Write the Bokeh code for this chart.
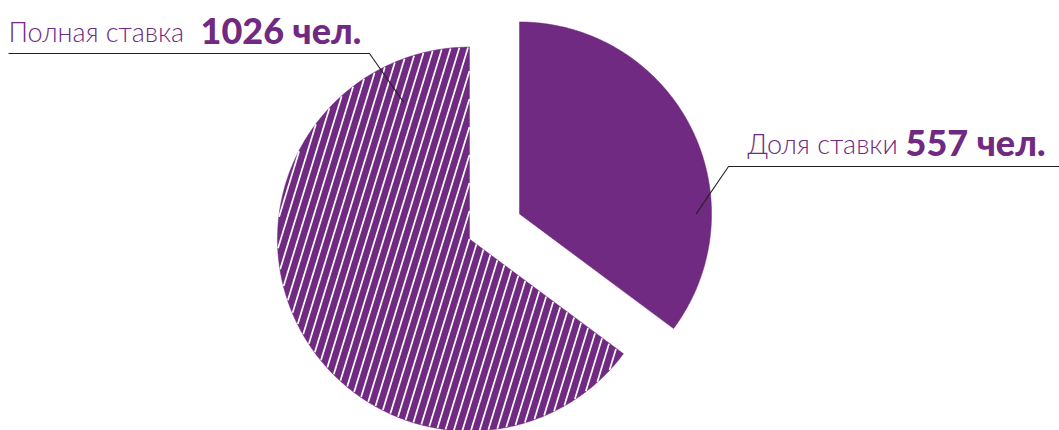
import numpy as np
from bokeh.plotting import figure
from bokeh.models import Range1d
from bokeh.core.properties import value
from bokeh.embed import file_html
from bokeh.resources import INLINE

# ---- data ----
categories = ["Полная ставка", "Доля ставки"]
counts = [1026, 557]
unit = "чел."

# ---- style / layout ----
PURPLE = "#702A82"
LINE = "#222222"
W, H = 1059, 430
CX, CY = 494.0, 226.0       # pie centre (px)
R = 192.0                   # radius
EXPLODE = 28.0
STRIPE_ANGLE = 73.0         # degrees from horizontal
STRIPE_SP = 8.2
REG_FONT = "Lato Light"
BOLD_FONT = "Lato Black"

p = figure(width=W, height=H, x_range=Range1d(0, W), y_range=Range1d(H, 0),
           output_backend="svg", toolbar_location=None, min_border=0,
           background_fill_color="white", border_fill_color="white")
p.axis.visible = False
p.grid.visible = False
p.outline_line_color = None

total = float(sum(counts))
# clockwise from 12 o'clock: part-time slice first, then full-time
order = [1, 0]
angles = {}
a = 0.0
for i in order:
    span = counts[i] / total * 360.0
    angles[i] = (a, a + span)
    a += span


def pt(cx, cy, r, th):
    t = np.radians(th)
    return cx + r * np.sin(t), cy - r * np.cos(t)


apex = {}
for i in order:
    a0, a1 = angles[i]
    mid = (a0 + a1) / 2.0
    apex[i] = pt(CX, CY, EXPLODE, mid)

# slices as polygons
for i in order:
    a0, a1 = angles[i]
    ax, ay = apex[i]
    th = np.linspace(a0, a1, 400)
    xs, ys = pt(ax, ay, R, th)
    xs = np.concatenate([[ax], xs])
    ys = np.concatenate([[ay], ys])
    p.patch(xs, ys, fill_color=PURPLE, line_color=PURPLE, line_width=0.5)

# stripes for full-time slice (index 0)
hx, hy = apex[0]
ha0, ha1 = angles[0]
ang = np.radians(STRIPE_ANGLE)
d = np.array([np.cos(ang), -np.sin(ang)])
n = np.array([np.sin(ang), np.cos(ang)])
t = np.arange(-R - 2, R + 2, 0.2)
sx, sy = [], []
for k in range(-int(R / STRIPE_SP) - 2, int(R / STRIPE_SP) + 3):
    bx = hx + k * STRIPE_SP * n[0]
    by = hy + k * STRIPE_SP * n[1]
    px = bx + t * d[0]
    py = by + t * d[1]
    dx, dy = px - hx, py - hy
    rr = np.hypot(dx, dy)
    th = np.degrees(np.arctan2(dx, -dy)) % 360.0
    inside = (rr <= R - 0.3) & (th >= ha0 + 0.15) & (th <= ha1)
    idx = np.flatnonzero(inside)
    if idx.size == 0:
        continue
    runs = np.split(idx, np.flatnonzero(np.diff(idx) > 1) + 1)
    for run in runs:
        if run.size < 2:
            continue
        sx.append([px[run[0]], px[run[-1]]])
        sy.append([py[run[0]], py[run[-1]]])
p.multi_line(sx, sy, line_color="white", line_width=1.7, line_cap="butt")

# leader lines: (anchor angle, anchor radius fraction, elbow, horizontal end)
leaders = {
    0: dict(th=334.3, fr=0.79, elbow=(369, 53), end=8),
    1: dict(th=90.0, fr=0.92, elbow=(728, 166), end=W),
}
for i, L in leaders.items():
    ax, ay = apex[i]
    tx, ty = pt(ax, ay, R * L["fr"], L["th"])
    ex, ey = L["elbow"]
    p.line([tx, ex, L["end"]], [ty, ey, ey], line_color=LINE, line_width=1.1)

# labels
label_pos = {0: dict(x=8, bx=200, y=31, by=29), 1: dict(x=747, bx=905, y=143, by=141)}
for i, pos in label_pos.items():
    p.text(x=[pos["x"]], y=[pos["y"]], text=[categories[i]],
           text_font=value(REG_FONT), text_font_size="27px",
           text_color=PURPLE, text_baseline="alphabetic", text_align="left")
    p.text(x=[pos["bx"]], y=[pos["by"]], text=[f"{counts[i]} {unit}"],
           text_font=value(BOLD_FONT), text_font_size="36px", text_font_style="bold",
           text_color=PURPLE, text_baseline="alphabetic", text_align="left")

open("out.html", "w").write(file_html(p, INLINE))
